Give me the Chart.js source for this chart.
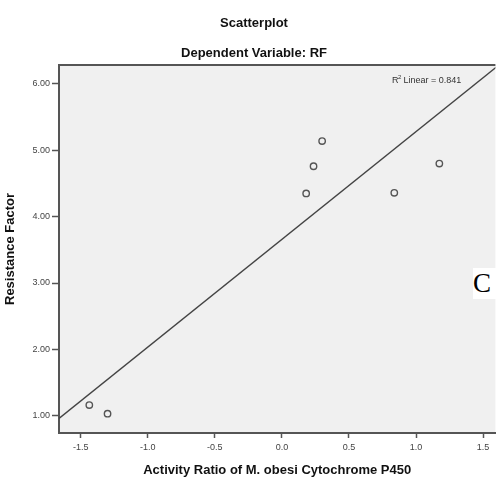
<!DOCTYPE html>
<html>
<head>
<meta charset="utf-8">
<script src="https://cdn.jsdelivr.net/npm/chart.js@4/dist/chart.umd.min.js"></script>
<style>
  body{margin:0;background:#fff;overflow:hidden;}
  #wrap{position:relative;width:496px;height:478px;overflow:hidden;}
  #panelTag{position:absolute;left:473px;top:268px;width:23px;height:31px;background:#fff;
    font-family:"Liberation Serif","DejaVu Serif",serif;font-size:27px;line-height:31px;color:#000;}
</style>
</head>
<body>
<div id="wrap">
  <canvas id="scatter" width="500" height="478"></canvas>
  <div id="panelTag">C</div>
</div>
<script>
let activityRatio=[-1.436,-1.30,0.30,0.236,0.181,0.838,1.174]
let resistanceFactor=[1.16,1.03,5.14,4.76,4.35,4.36,4.80]
let xTicks=[-1.5,-1.0,-0.5,0.0,0.5,1.0,1.5]
let yTicks=[1,2,3,4,5,6]
let rSquared="0.841"

let titleText="Scatterplot"
let subtitleText="Dependent Variable: RF"
let xTitle="Activity Ratio of M. obesi Cytochrome P450"
let yTitle="Resistance Factor"

let xMin=-1.662, xMax=1.592
let yMin=0.739, yMax=6.286

let font='"Liberation Sans", Arial, sans-serif'

// least squares line through the points
function fitLine(){
    let n=activityRatio.length
    let mx=activityRatio.reduce((a,b)=>a+b,0)/n
    let my=resistanceFactor.reduce((a,b)=>a+b,0)/n
    let sxy=0, sxx=0
    for(let i=0;i<n;i++){
        sxy+=(activityRatio[i]-mx)*(resistanceFactor[i]-my)
        sxx+=(activityRatio[i]-mx)*(activityRatio[i]-mx)
    }
    let b=sxy/sxx, a=my-b*mx
    return [{x:xMin,y:a+b*xMin},{x:xMax+0.1,y:a+b*(xMax+0.1)}]
}

let points=activityRatio.map((x,i)=>({x:x,y:resistanceFactor[i]}))

let spssFrame={
    id:"spssFrame",
    beforeDraw(chart){
        let c=chart.ctx, a=chart.chartArea
        c.save()
        c.fillStyle="#f0f0f0"
        c.fillRect(a.left,a.top,a.right-a.left,a.bottom-a.top)
        c.strokeStyle="#555"
        c.lineWidth=2
        c.beginPath()
        c.moveTo(a.right,a.top)
        c.lineTo(a.left,a.top)
        c.stroke()
        c.restore()
    },
    afterDraw(chart){
        let c=chart.ctx
        c.save()
        c.fillStyle="#111"
        c.textAlign="center"
        c.textBaseline="middle"
        c.font="bold 13px "+font
        c.fillText(titleText,254,23)
        c.fillText(subtitleText,254,53)
        // R squared note
        c.fillStyle="#333"
        c.textAlign="left"
        c.font="9px "+font
        c.fillText("R",392,81)
        c.font="6px "+font
        c.fillText("2",398,77)
        c.font="9px "+font
        c.fillText(" Linear = "+rSquared,401,81)
        c.restore()
    }
}

new Chart("scatter",{
    type:"scatter",
    data:{
        datasets:[{
            data:points,
            pointRadius:3.2,
            pointHoverRadius:3.2,
            pointBorderWidth:1.4,
            pointBorderColor:"#555",
            pointBackgroundColor:"rgba(0,0,0,0)",
            order:1
        },{
            type:"line",
            data:fitLine(),
            showLine:true,
            borderColor:"#444",
            borderWidth:1.4,
            pointRadius:0,
            fill:false,
            order:2
        }]
    },
    options:{
        responsive:false,
        animation:false,
        events:[],
        layout:{padding:{top:65,right:1,left:0,bottom:0}},
        plugins:{legend:{display:false},tooltip:{enabled:false}},
        scales:{
            x:{
                type:"linear",
                min:xMin,max:xMax,
                afterFit(s){s.height=45},
                afterBuildTicks(s){s.ticks=xTicks.map(v=>({value:v}))},
                ticks:{
                    callback:v=>v.toFixed(1),
                    color:"#444",
                    font:{family:font,size:9},
                    padding:4,
                    maxRotation:0,
                    autoSkip:false
                },
                grid:{drawOnChartArea:false,drawTicks:true,tickLength:5,color:"#555",tickWidth:1.5},
                border:{display:true,color:"#555",width:2},
                title:{display:true,text:xTitle,color:"#111",font:{family:font,size:13,weight:"bold"},padding:{top:6,bottom:0}}
            },
            y:{
                type:"linear",
                min:yMin,max:yMax,
                afterFit(s){s.width=59},
                afterBuildTicks(s){s.ticks=yTicks.map(v=>({value:v}))},
                ticks:{
                    callback:v=>v.toFixed(2),
                    color:"#444",
                    font:{family:font,size:9},
                    padding:2
                },
                grid:{drawOnChartArea:false,drawTicks:true,tickLength:7,color:"#555",tickWidth:1.5},
                border:{display:true,color:"#555",width:2},
                title:{display:true,text:yTitle,color:"#111",font:{family:font,size:13,weight:"bold"},padding:{top:3,bottom:0}}
            }
        }
    },
    plugins:[spssFrame]
})
</script>
</body>
</html>
